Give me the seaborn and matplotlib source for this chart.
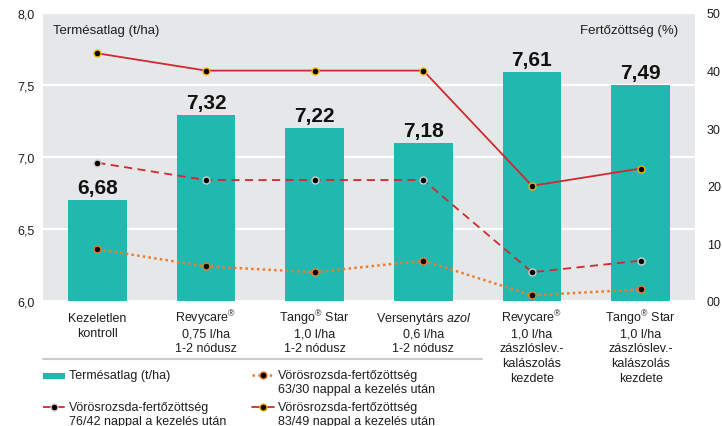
import numpy as np
import pandas as pd
import matplotlib
matplotlib.use("Agg")
import matplotlib.pyplot as plt
import seaborn as sns
from matplotlib.lines import Line2D

# ---------------- data ----------------
categories = [
    "Kezeletlen\nkontroll",
    "Revycare$^{®}$\n0,75 l/ha\n1-2 nódusz",
    "Tango$^{®}$ Star\n1,0 l/ha\n1-2 nódusz",
    "Versenytárs $\\mathit{azol}$\n0,6 l/ha\n1-2 nódusz",
    "Revycare$^{®}$\n1,0 l/ha\nzászlóslev.-\nkalászolás\nkezdete",
    "Tango$^{®}$ Star\n1,0 l/ha\nzászlóslev.-\nkalászolás\nkezdete",
]
yield_drawn = [6.70, 7.29, 7.20, 7.10, 7.59, 7.50]
yield_labels = ["6,68", "7,32", "7,22", "7,18", "7,61", "7,49"]
inf_63_30 = [9, 6, 5, 7, 1, 2]
inf_76_42 = [24, 21, 21, 21, 5, 7]
inf_83_49 = [43, 40, 40, 40, 20, 23]

left_ticks = [6.0, 6.5, 7.0, 7.5, 8.0]
left_ticklabels = ["6,0", "6,5", "7,0", "7,5", "8,0"]
right_ticks = [0, 10, 20, 30, 40, 50]
right_ticklabels = ["00", "10", "20", "30", "40", "50"]

legend_labels = [
    "Termésatlag (t/ha)\n",
    "Vörösrozsda-fertőzöttség\n76/42 nappal a kezelés után",
    "Vörösrozsda-fertőzöttség\n63/30 nappal a kezelés után",
    "Vörösrozsda-fertőzöttség\n83/49 nappal a kezelés után",
]

# ---------------- style ----------------
sns.set_style("white")
plt.rcParams["font.family"] = ["Liberation Sans", "DejaVu Sans"]
plt.rcParams["mathtext.fontset"] = "custom"
plt.rcParams["mathtext.rm"] = "Liberation Sans"
plt.rcParams["mathtext.it"] = "Liberation Sans:italic"
plt.rcParams["mathtext.bf"] = "Liberation Sans:bold"

TEAL = "#21b9af"
RED = "#d2282e"
ORANGE = "#ee7d2b"
BG = "#e6e7e9"
TXT = "#1e1e1e"

fig = plt.figure(figsize=(7.22, 4.27), dpi=100)
L, R, T, B = 43, 695, 14, 302
ax = fig.add_axes([L / 722, 1 - B / 427, (R - L) / 722, (B - T) / 427])
ax.set_facecolor(BG)

df = pd.DataFrame({"cat": categories, "yield": yield_drawn})
sns.barplot(data=df, x="cat", y="yield", ax=ax, color=TEAL, width=0.54,
            saturation=1, linewidth=0, edgecolor=TEAL,
            label="Termésatlag (t/ha)", zorder=2)
if ax.get_legend() is not None:
    ax.get_legend().remove()
ax.set_ylim(6.0, 8.0)
ax.set_xlim(-0.5, len(categories) - 0.5)
ax.set_yticks(left_ticks)
ax.set_yticklabels(left_ticklabels)
ax.set_xlabel("")
ax.set_ylabel("")
ax.grid(axis="y", color="white", linewidth=1.6)
ax.grid(axis="x", visible=False)
ax.set_axisbelow(True)
for s in ax.spines.values():
    s.set_visible(False)
ax.tick_params(axis="y", length=0, pad=5.8, labelsize=9, labelcolor=TXT)
ax.tick_params(axis="x", length=0, labelbottom=False)

# category labels, line by line with an even line pitch
for i, cat in enumerate(categories):
    for k, line in enumerate(cat.split("\n")):
        ax.annotate(line, (i, 0), xycoords=("data", "axes fraction"),
                    xytext=(0, -14.5 - 10.8 * k), textcoords="offset points",
                    ha="center", va="baseline", fontsize=9, color=TXT)

for i, (h, lab) in enumerate(zip(yield_drawn, yield_labels)):
    ax.annotate(lab, (i, h), xytext=(0, 5), textcoords="offset points",
                ha="center", va="baseline", fontsize=15, fontweight="bold",
                color="#111111")

ax2 = ax.twinx()
xpos = np.arange(len(categories))
sns.lineplot(x=xpos, y=inf_76_42, ax=ax2, color=RED, linewidth=1.3,
             linestyle=(0, (4.5, 3)), marker="o", markersize=5,
             markerfacecolor="black", markeredgecolor="#cfcfcf",
             markeredgewidth=1, legend=False)
sns.lineplot(x=xpos, y=inf_63_30, ax=ax2, color=ORANGE, linewidth=1.8,
             linestyle=(0, (1, 1.3)), marker="o", markersize=5,
             markerfacecolor="black", markeredgecolor=ORANGE,
             markeredgewidth=1, legend=False)
sns.lineplot(x=xpos, y=inf_83_49, ax=ax2, color=RED, linewidth=1.3,
             linestyle="-", marker="o", markersize=5,
             markerfacecolor="black", markeredgecolor="#f2b400",
             markeredgewidth=1, legend=False)
ax2.set_ylim(0, 50)
ax2.set_yticks(right_ticks)
ax2.set_yticklabels(right_ticklabels)
ax2.set_ylabel("")
for s in ax2.spines.values():
    s.set_visible(False)
ax2.tick_params(axis="y", length=0, pad=8.6, labelsize=9, labelcolor=TXT)
ax2.set_xlim(-0.5, len(categories) - 0.5)

ax.text(0.0153, 0.94, "Termésatlag (t/ha)", transform=ax.transAxes,
        ha="left", va="center", fontsize=9.5, color=TXT)
ax.text(0.974, 0.94, "Fertőzöttség (%)", transform=ax.transAxes,
        ha="right", va="center", fontsize=9.5, color=TXT)

# separator line above the legend
fig.add_artist(Line2D([43 / 722, 482 / 722], [1 - 360 / 427] * 2,
                      transform=fig.transFigure, color="#cbcbcb", lw=1.5))

bar_handle = ax.patches[0]
lines = ax2.get_lines()
handles = [bar_handle, lines[0], lines[1], lines[2]]
leg = fig.legend(handles, legend_labels, loc="upper left",
                 bbox_to_anchor=(43 / 722, 1 - 370 / 427), ncol=2,
                 frameon=False, fontsize=9, handlelength=1.75,
                 handletextpad=0.3, columnspacing=2.1, borderpad=0,
                 borderaxespad=0, labelspacing=0.5, labelcolor=TXT)
for h in leg.legend_handles:
    if isinstance(h, Line2D):
        h.set_ydata(np.asarray(h.get_ydata(), dtype=float) + 5)
    else:
        h.set_y(h.get_y() + 5)
        h.set_height(5)

fig.savefig("out.png", dpi=100, facecolor="white")
